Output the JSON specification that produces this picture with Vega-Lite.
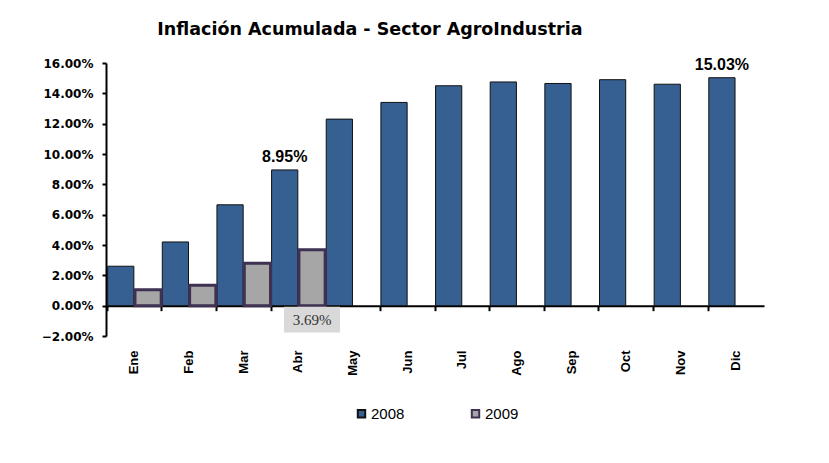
{
  "$schema": "https://vega.github.io/schema/vega-lite/v6.json",
  "width": 658,
  "height": 273,
  "autosize": {"type": "none"},
  "padding": {"left": 106, "top": 63, "right": 65, "bottom": 127},
  "background": "white",
  "config": {"view": {"stroke": null}, "font": "Liberation Sans", "axis": {"labelOverlap": false}, "axisY": {"labelOverlap": false}},
  "title": {
    "text": "Inflación Acumulada - Sector AgroIndustria",
    "anchor": "start",
    "dx": 116,
    "font": "DejaVu Sans",
    "fontSize": 17.5,
    "fontWeight": "bold",
    "color": "black",
    "baseline": "alphabetic",
    "offset": 4
  },
  "data": {
    "values": [
      {"month": "Ene", "year": "2008", "value": 0.026},
      {"month": "Feb", "year": "2008", "value": 0.042},
      {"month": "Mar", "year": "2008", "value": 0.0665},
      {"month": "Abr", "year": "2008", "value": 0.0895},
      {"month": "May", "year": "2008", "value": 0.123},
      {"month": "Jun", "year": "2008", "value": 0.134},
      {"month": "Jul", "year": "2008", "value": 0.145},
      {"month": "Ago", "year": "2008", "value": 0.1475},
      {"month": "Sep", "year": "2008", "value": 0.1465},
      {"month": "Oct", "year": "2008", "value": 0.149},
      {"month": "Nov", "year": "2008", "value": 0.146},
      {"month": "Dic", "year": "2008", "value": 0.1503},
      {"month": "Ene", "year": "2009", "value": 0.0105},
      {"month": "Feb", "year": "2009", "value": 0.0135},
      {"month": "Mar", "year": "2009", "value": 0.028},
      {"month": "Abr", "year": "2009", "value": 0.0369}
    ]
  },
  "resolve": {"axis": {"x": "independent", "y": "independent"}, "scale": {"x": "shared", "y": "shared"}},
  "layer": [
    {
      "mark": {"type": "bar"},
      "encoding": {
        "x": {
          "field": "month",
          "type": "nominal",
          "sort": ["Ene", "Feb", "Mar", "Abr", "May", "Jun", "Jul", "Ago", "Sep", "Oct", "Nov", "Dic"],
          "scale": {"domain": ["Ene", "Feb", "Mar", "Abr", "May", "Jun", "Jul", "Ago", "Sep", "Oct", "Nov", "Dic"], "paddingInner": 0, "paddingOuter": 0.02},
          "axis": {
            "orient": "bottom",
            "title": null,
            "domain": false,
            "ticks": false,
            "labelAngle": -90,
            "labelAlign": "right",
            "labelBaseline": "middle",
            "labelPadding": 14,
            "labelFontSize": 13,
            "labelFontWeight": "bold",
            "labelColor": "black"
          }
        },
        "xOffset": {
          "field": "year",
          "type": "nominal",
          "scale": {"domain": ["2008", "2009"], "paddingInner": 0.04, "paddingOuter": 0.02}
        },
        "y": {
          "field": "value",
          "type": "quantitative",
          "scale": {"domain": [-0.02, 0.16], "nice": false, "zero": false},
          "axis": {
            "orient": "left",
            "values": [-0.02, 0, 0.02, 0.04, 0.06, 0.08, 0.1, 0.12, 0.14, 0.16],
            "format": ".2%",
            "title": null,
            "grid": false,
            "labelOverlap": false,
            "labelFlush": false,
            "domainColor": "black",
            "domainWidth": 2,
            "tickColor": "black",
            "tickWidth": 2,
            "tickSize": 4,
            "labelFont": "DejaVu Sans",
            "labelFontSize": 12,
            "labelFontWeight": "bold",
            "labelColor": "black",
            "labelPadding": 9
          }
        },
        "color": {
          "field": "year",
          "type": "nominal",
          "scale": {"domain": ["2008", "2009"], "range": ["#366092", "#a6a6a6"]},
          "legend": {
            "orient": "none",
            "legendX": 248,
            "legendY": 343,
            "direction": "horizontal",
            "title": null,
            "padding": 0,
            "labelFontSize": 15,
            "labelColor": "black",
            "labelFont": "Liberation Sans",
            "labelOffset": 2,
            "symbolType": "square",
            "symbolSize": 55,
            "symbolStrokeWidth": 2,
            "columnPadding": 62
          }
        },
        "stroke": {
          "field": "year",
          "type": "nominal",
          "scale": {"domain": ["2008", "2009"], "range": ["#111111", "#3f3151"]},
          "legend": null
        },
        "strokeWidth": {
          "condition": {"test": "datum.year == '2009'", "value": 3},
          "value": 1
        }
      }
    },
    {
      "mark": {"type": "bar", "opacity": 0},
      "encoding": {
        "x": {
          "field": "month",
          "type": "nominal",
          "sort": ["Ene", "Feb", "Mar", "Abr", "May", "Jun", "Jul", "Ago", "Sep", "Oct", "Nov", "Dic"],
          "axis": {
            "orient": "bottom",
            "title": null,
            "bandPosition": 0,
            "offset": -30.33,
            "labels": false,
            "domain": true,
            "domainColor": "black",
            "domainWidth": 2,
            "ticks": true,
            "tickColor": "black",
            "tickWidth": 2,
            "tickSize": 5
          }
        },
        "xOffset": {"field": "year", "type": "nominal"},
        "y": {"field": "value", "type": "quantitative", "axis": null}
      }
    },
    {
      "transform": [{"filter": "datum.year == '2008' && (datum.month == 'Abr' || datum.month == 'Dic')"}],
      "mark": {"type": "text", "baseline": "alphabetic", "dy": -8, "fontSize": 16, "fontWeight": "bold", "color": "black"},
      "encoding": {
        "x": {"field": "month", "type": "nominal", "sort": ["Ene", "Feb", "Mar", "Abr", "May", "Jun", "Jul", "Ago", "Sep", "Oct", "Nov", "Dic"], "axis": null},
        "xOffset": {"field": "year", "type": "nominal"},
        "y": {"field": "value", "type": "quantitative", "axis": null},
        "text": {"field": "value", "type": "quantitative", "format": ".2%"}
      }
    },
    {
      "transform": [{"filter": "datum.year == '2009' && datum.month == 'Abr'"}],
      "mark": {"type": "point", "shape": "M-1,-0.46H1V0.46H-1Z", "size": 3136, "filled": true, "fill": "#d9d9d9", "stroke": null, "opacity": 1},
      "encoding": {
        "x": {"field": "month", "type": "nominal", "sort": ["Ene", "Feb", "Mar", "Abr", "May", "Jun", "Jul", "Ago", "Sep", "Oct", "Nov", "Dic"], "axis": null},
        "xOffset": {"field": "year", "type": "nominal"},
        "y": {"datum": 0, "axis": null},
        "yOffset": {"value": 14}
      }
    },
    {
      "transform": [{"filter": "datum.year == '2009' && datum.month == 'Abr'"}],
      "mark": {"type": "text", "baseline": "middle", "fontSize": 15, "font": "Liberation Serif", "color": "#333333"},
      "encoding": {
        "x": {"field": "month", "type": "nominal", "sort": ["Ene", "Feb", "Mar", "Abr", "May", "Jun", "Jul", "Ago", "Sep", "Oct", "Nov", "Dic"], "axis": null},
        "xOffset": {"field": "year", "type": "nominal"},
        "y": {"datum": 0, "axis": null},
        "yOffset": {"value": 14},
        "text": {"field": "value", "type": "quantitative", "format": ".2%"}
      }
    }
  ]
}
